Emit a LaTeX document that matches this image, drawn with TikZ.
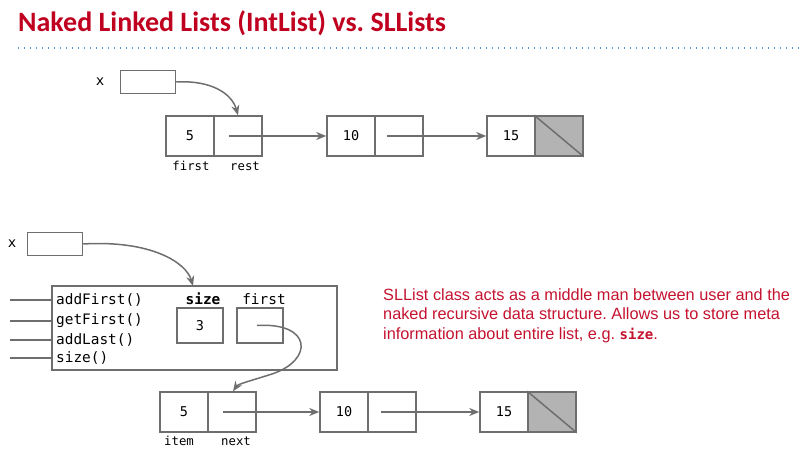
\documentclass[tikz,border=0pt]{standalone}
\usepackage{fontspec}
\setmainfont{Liberation Sans}
\newfontfamily\titlefont{Carlito}
\newfontfamily\monofont{DejaVu Sans Mono}
\usetikzlibrary{arrows.meta}
\definecolor{titlered}{HTML}{C0001F}
\definecolor{notered}{HTML}{C4122F}
\definecolor{linegray}{HTML}{6E6E6E}
\definecolor{cellgray}{HTML}{B3B3B3}
\definecolor{dotblue}{HTML}{5B9BD5}
\tikzset{
  cell/.style={draw=linegray, line width=1.5pt, minimum width=48pt, minimum height=40pt, inner sep=0pt, font=\monofont\fontsize{13.5}{13.5}\selectfont},
  nullcell/.style={cell, fill=cellgray},
  ptrbox/.style={draw=linegray, line width=1.5pt, minimum width=55pt, minimum height=23pt, inner sep=0pt},
  fieldbox/.style={draw=linegray, line width=1.5pt, minimum width=46pt, minimum height=35pt, inner sep=0pt, font=\monofont\fontsize{13.5}{13.5}\selectfont},
  lbl/.style={inner sep=0pt, font=\monofont\fontsize{12.3}{12.3}\selectfont},
  mlbl/.style={inner sep=0pt, anchor=west, font=\monofont\fontsize{14.4}{14.4}\selectfont},
  arr/.style={draw=linegray, line width=1.5pt, -{Stealth[length=10pt,width=8pt]}},
  conn/.style={draw=linegray, line width=1.5pt}
}
\frenchspacing
\begin{document}
\begin{tikzpicture}[x=1pt,y=-1pt]
\useasboundingbox (0,0) rectangle (803,462);
% title
\node[anchor=base west, inner sep=0pt, text=titlered, font=\titlefont\bfseries\fontsize{28}{28}\selectfont] (title) at (18,32) {Naked Linked Lists (IntList) vs. SLLists};
\coordinate (dl) at (18,48);
\coordinate (dr) at (800,48);
\draw[dotblue, line width=1.3pt, dash pattern=on 1.3pt off 4.7pt] (dl) -- (dr);

% top list
\node[lbl, font=\monofont\fontsize{14}{14}\selectfont] (tx) at (100,82) {x};
\node[ptrbox] (tp) at (148,82) {};
\node[cell] (t1a) at (190,136) {5};
\node[cell] (t1b) at (238,136) {};
\node[cell] (t2a) at (351,136) {10};
\node[cell] (t2b) at (399,136) {};
\node[cell] (t3a) at (511,136) {15};
\node[nullcell] (t3b) at (559,136) {};
\draw[conn] (t3b.north west) -- (t3b.south east);
\node[lbl] (tfirst) at (191,166) {first};
\node[lbl] (trest) at (245,166) {rest};
\draw[arr] (tp.east) .. controls (212,80) and (232,94) .. (t1b.north);
\draw[arr] ([xshift=-9pt]t1b.center) -- (t2a.west);
\draw[arr] ([xshift=-12pt]t2b.center) -- (t3a.west);

% bottom
\node[lbl, font=\monofont\fontsize{14}{14}\selectfont] (bx) at (12,244) {x};
\node[ptrbox] (bp) at (55,244) {};
\node[draw=linegray, line width=1.5pt, minimum width=285pt, minimum height=84pt, inner sep=0pt] (sll) at (194.5,328) {};
\node[mlbl] (m1) at (56,300) {addFirst()};
\node[mlbl] (m2) at (56,321) {getFirst()};
\node[mlbl] (m3) at (56,340) {addLast()};
\node[mlbl] (m4) at (56,358) {size()};
\coordinate (l1) at (10,300);
\coordinate (l2) at (10,321);
\coordinate (l3) at (10,340);
\coordinate (l4) at (10,358);
\draw[conn] (l1) -- (sll.west |- l1);
\draw[conn] (l2) -- (sll.west |- l2);
\draw[conn] (l3) -- (sll.west |- l3);
\draw[conn] (l4) -- (sll.west |- l4);
\node[lbl, font=\monofont\bfseries\fontsize{14.4}{14.4}\selectfont] (sizelbl) at (203,299) {size};
\node[lbl, font=\monofont\fontsize{14.4}{14.4}\selectfont] (firstlbl) at (264,299) {first};
\node[fieldbox] (sizebox) at (200,325.5) {3};
\node[fieldbox] (firstbox) at (260,325.5) {};
\coordinate (sllin) at (193,286);
\draw[arr] (bp.east) .. controls (150,240) and (186,262) .. (sllin);

\node[cell] (b1a) at (184,412) {5};
\node[cell] (b1b) at (232,412) {};
\node[cell] (b2a) at (344,412) {10};
\node[cell] (b2b) at (392,412) {};
\node[cell] (b3a) at (504,412) {15};
\node[nullcell] (b3b) at (552,412) {};
\draw[conn] (b3b.north west) -- (b3b.south east);
\node[lbl] (bitem) at (179,441) {item};
\node[lbl] (bnext) at (236,441) {next};
\draw[arr] ([xshift=-3pt]firstbox.center) .. controls (312,322) and (314,360) .. (272,374) .. controls (250,381) and (238,384) .. ([xshift=1pt]b1b.north);
\draw[arr] ([xshift=-9pt]b1b.center) -- (b2a.west);
\draw[arr] ([xshift=-11pt]b2b.center) -- (b3a.west);

% note
\node[anchor=north west, inner sep=0pt, align=left, text=notered, font=\fontsize{16.3}{19.5}\selectfont] (note) at (383,288) {SLList class acts as a middle man between user and the\\naked recursive data structure. Allows us to store meta\\information about entire list, e.g. {\monofont\bfseries\fontsize{14}{14}\selectfont size}.};
\end{tikzpicture}
\end{document}
